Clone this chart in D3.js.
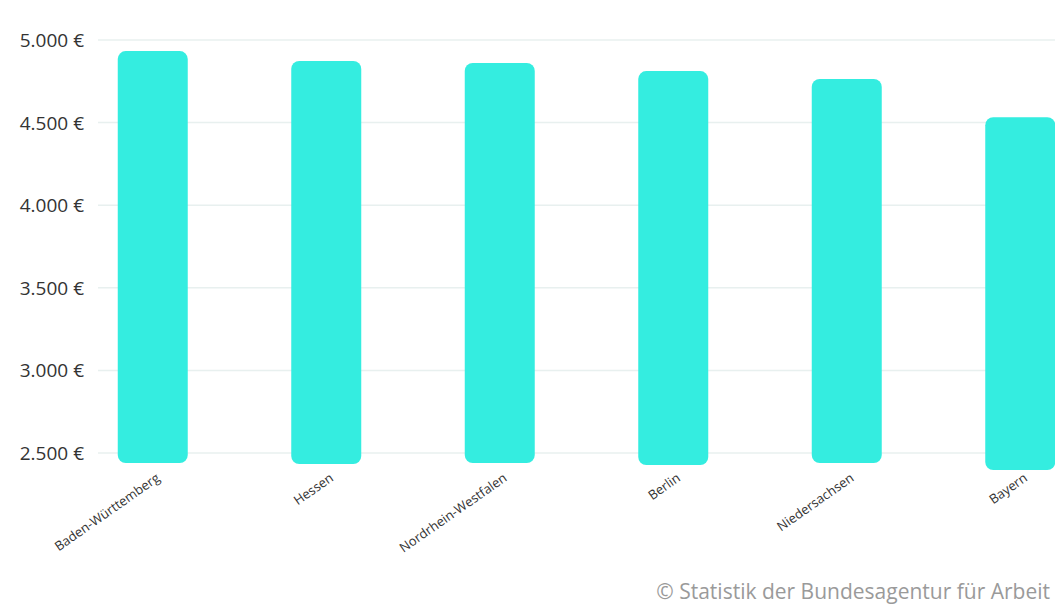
<!doctype html>
<html>
  <head>
    <style>
      * { margin: 0; padding: 0; }
      body { background: #fff; font-family: "Open Sans", sans-serif; }
    </style>
    <script src="https://cdnjs.cloudflare.com/ajax/libs/d3/7.8.5/d3.min.js"></script>
  </head>
  <body>
    <script>
      var categories = ["Baden-Württemberg", "Hessen", "Nordrhein-Westfalen", "Berlin", "Niedersachsen", "Bayern"];
      var highs = [4933, 4873, 4861, 4812, 4764, 4533];
      var lows = [2439, 2433, 2439, 2427, 2439, 2397];
      var ticks = [2500, 3000, 3500, 4000, 4500, 5000];

      var width = 1055, height = 604;
      var svg = d3.select("body").append("svg").attr("width", width).attr("height", height);

      var y = d3.scaleLinear().domain([2500, 5000]).range([453, 40]);
      var x = d3.scaleBand().domain(categories).range([66, 1107]).paddingInner(0.6).paddingOuter(0.3);

      // grid
      svg.selectAll("line.grid").data(ticks).enter().append("line")
        .attr("x1", 98).attr("x2", width)
        .attr("y1", function(d) { return y(d); }).attr("y2", function(d) { return y(d); })
        .attr("stroke", "#e8f0ef").attr("stroke-width", 1.5);

      svg.selectAll("text.tick").data(ticks).enter().append("text")
        .attr("x", 84).attr("y", function(d) { return y(d) + 7; })
        .attr("text-anchor", "end").attr("font-size", "19px").attr("fill", "#333")
        .text(function(d) { return d3.format(",")(d).replace(",", ".") + " €"; });

      var bw = 70;
      svg.selectAll("rect.bar").data(categories).enter().append("rect")
        .attr("x", function(d) { return x(d) + x.bandwidth() / 2 - bw / 2; })
        .attr("width", bw)
        .attr("y", function(d, i) { return y(highs[i]); })
        .attr("height", function(d, i) { return y(lows[i]) - y(highs[i]); })
        .attr("rx", 8).attr("ry", 8)
        .attr("fill", "#34ede0");

      svg.selectAll("text.cat").data(categories).enter().append("text")
        .attr("transform", function(d) {
          return "translate(" + (x(d) + x.bandwidth() / 2 + 8) + ",480) rotate(-35)";
        })
        .attr("text-anchor", "end").attr("font-size", "13px").attr("fill", "#333")
        .text(function(d) { return d; });

      svg.append("text").attr("x", 1050).attr("y", 599).attr("text-anchor", "end")
        .attr("font-size", "21px").attr("fill", "#9a9a9a")
        .text("© Statistik der Bundesagentur für Arbeit");
    </script>
  </body>
</html>
